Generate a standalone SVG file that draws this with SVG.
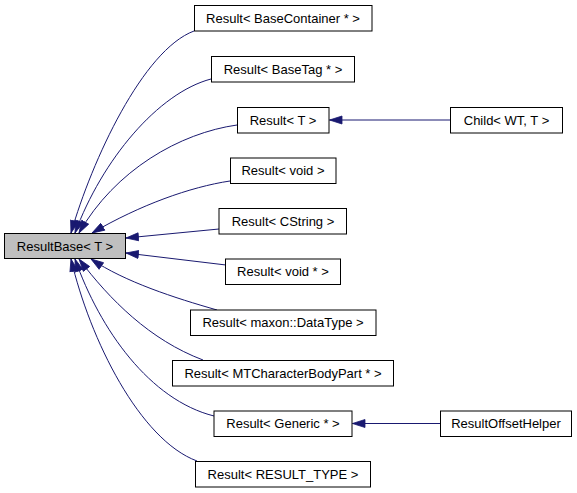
<svg xmlns="http://www.w3.org/2000/svg" width="577" height="493" viewBox="0 0 577 493">
<style>
.n rect{fill:#ffffff;stroke:#000000;stroke-width:1}
.n.base rect{fill:#bfbfbf}
.n text{font-family:"Liberation Sans",Arial,sans-serif;font-size:13px;fill:#000000;text-anchor:middle}
.e path{fill:none;stroke:#191970;stroke-width:1}
</style>
<defs>
<marker id="arr" markerUnits="userSpaceOnUse" markerWidth="14" markerHeight="10" refX="13" refY="4.5" orient="auto" viewBox="0 0 14 9">
<path d="M0.5,0.5 L13,4.5 L0.5,8.5 Z" fill="#191970" stroke="#191970" stroke-width="0.8"/>
</marker>
</defs>
<rect width="577" height="493" fill="#ffffff"/>
<g id="edges" class="e">
<path d="M194,31 C143,50 92,160 71,233" marker-end="url(#arr)"/>
<path d="M211,79 C158,93 102,160 75,233" marker-end="url(#arr)"/>
<path d="M237,125 C180,133 115,170 79,233" marker-end="url(#arr)"/>
<path d="M230,181 C190,187 140,205 92,233" marker-end="url(#arr)"/>
<path d="M219,229 L126,238" marker-end="url(#arr)"/>
<path d="M226,265 L126,253" marker-end="url(#arr)"/>
<path d="M217,310 C175,298 125,282 91,259" marker-end="url(#arr)"/>
<path d="M203,360 C150,340 110,300 79,259" marker-end="url(#arr)"/>
<path d="M214,416 C150,400 100,330 75,259" marker-end="url(#arr)"/>
<path d="M197,461 C140,440 90,340 71,259" marker-end="url(#arr)"/>
<path d="M450.5,120 L329.5,120" marker-end="url(#arr)"/>
<path d="M440.5,423.5 L352.5,423.5" marker-end="url(#arr)"/>
</g>
<g id="node-ResultBase" class="n base"><rect x="4.5" y="233.5" width="121" height="25"/><text x="65" y="250.5">ResultBase&lt; T &gt;</text></g>
<g id="node-BaseContainer" class="n"><rect x="194.5" y="5.5" width="177.5" height="25.5"/><text x="283" y="22.5">Result&lt; BaseContainer * &gt;</text></g>
<g id="node-BaseTag" class="n"><rect x="211.5" y="56.5" width="143" height="25.5"/><text x="283" y="73.5">Result&lt; BaseTag * &gt;</text></g>
<g id="node-T" class="n"><rect x="237.5" y="107.5" width="91.5" height="25.5"/><text x="283" y="124.5">Result&lt; T &gt;</text></g>
<g id="node-void" class="n"><rect x="230.5" y="158" width="105.5" height="25.5"/><text x="283" y="175">Result&lt; void &gt;</text></g>
<g id="node-CString" class="n"><rect x="219" y="208.5" width="127.5" height="25.5"/><text x="283" y="225.5">Result&lt; CString &gt;</text></g>
<g id="node-voidptr" class="n"><rect x="225.5" y="259" width="115" height="25.5"/><text x="283" y="276">Result&lt; void * &gt;</text></g>
<g id="node-DataType" class="n"><rect x="190.5" y="310" width="185.5" height="25.5"/><text x="283" y="327">Result&lt; maxon::DataType &gt;</text></g>
<g id="node-MTCharacterBodyPart" class="n"><rect x="172.5" y="360.5" width="221" height="25.5"/><text x="283" y="377.5">Result&lt; MTCharacterBodyPart * &gt;</text></g>
<g id="node-Generic" class="n"><rect x="214" y="411" width="138" height="25.5"/><text x="283" y="428">Result&lt; Generic * &gt;</text></g>
<g id="node-RESULT_TYPE" class="n"><rect x="195.5" y="461.5" width="175" height="25.5"/><text x="283" y="478.5">Result&lt; RESULT_TYPE &gt;</text></g>
<g id="node-Child" class="n"><rect x="450.5" y="107.5" width="112" height="25.5"/><text x="506.5" y="124.5">Child&lt; WT, T &gt;</text></g>
<g id="node-ResultOffsetHelper" class="n"><rect x="440.5" y="411" width="131" height="25.5"/><text x="506" y="428">ResultOffsetHelper</text></g>
</svg>
